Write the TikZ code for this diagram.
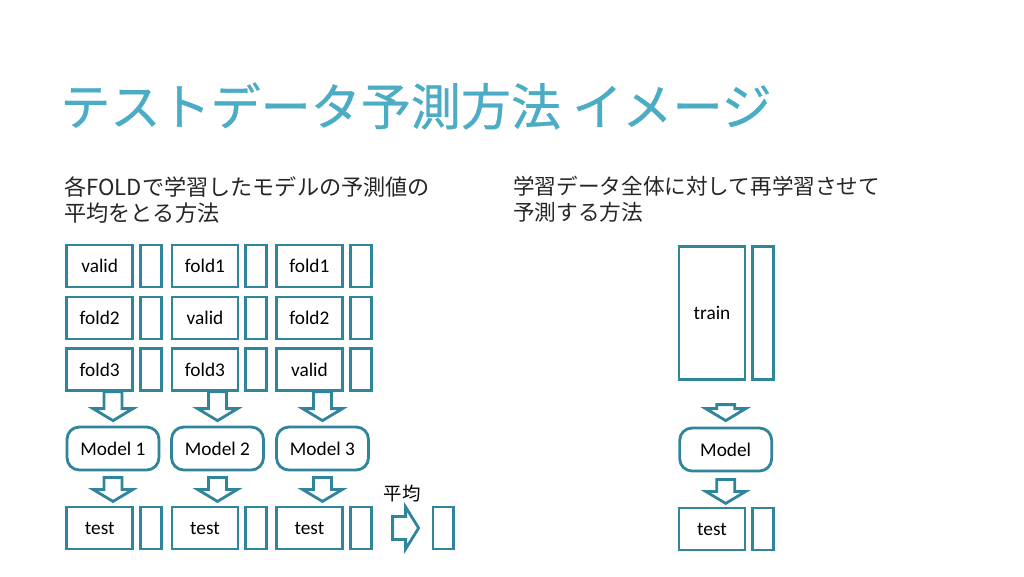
\documentclass[tikz,border=0pt]{standalone}
\usepackage{fontspec}
\setmainfont{Carlito}
\newfontfamily\jpfont{Noto Sans CJK JP}
\newfontfamily\jptitle[FakeBold=0.6]{Noto Sans CJK JP}
\usetikzlibrary{positioning,calc}
\definecolor{boxc}{RGB}{49,133,155}
\definecolor{titlec}{RGB}{75,172,198}
\tikzset{
  databox/.style={
    draw=boxc, line width=1.6pt,
    minimum width=1.32cm,
    minimum height=0.84cm,
    inner sep=0pt,
    font=\fontsize{11}{13}\selectfont},
  predbox/.style={
    draw=boxc, line width=1.6pt,
    minimum width=0.42cm,
    minimum height=0.84cm,
    inner sep=0pt},
  modelbox/.style={
    draw=boxc, line width=1.6pt,
    rounded corners=7pt,
    minimum width=1.84cm,
    minimum height=0.86cm,
    inner sep=0pt,
    font=\fontsize{11}{13}\selectfont},
  pics/darrow/.style={code={
    \draw[boxc, line width=1.6pt, line join=miter]
      (-9,0) -- (9,0) -- (9,#1-12) -- (20,#1-12) -- (0,#1)
      -- (-20,#1-12) -- (-9,#1-12) -- cycle;}},
  pics/rarrow/.style={code={
    \draw[boxc, line width=1.6pt, line join=miter]
      (0,-11.5) -- (13,-11.5) -- (13,-21) -- (26,0) -- (13,21)
      -- (13,11.5) -- (0,11.5) -- cycle;}},
}

\begin{document}
\begin{tikzpicture}[
    x=0.02cm, y=-0.02cm,
    title/.style={anchor=west, inner sep=0pt, text=titlec,
      font=\jptitle\fontsize{28.5}{30}\selectfont},
    sub/.style={anchor=north west, inner sep=0pt, align=left,
      text=black!85, font=\jpfont\fontsize{12.6}{14.8}\selectfont},
    ]
    \useasboundingbox[fill=white] (0,0) rectangle (1024,576);

    % title
    \node[title] (ttl) at (60,106) {テストデータ予測方法 イメージ};
    \node[sub] (subl) at (64,176) {各FOLDで学習したモデルの予測値の\\平均をとる方法};
    \node[sub, font=\jpfont\fontsize{12.3}{14.8}\selectfont]
      (subr) at (513,176) {学習データ全体に対して再学習させて\\予測する方法};

    % folds
    \node[databox] (d11) at (99.7,266) {valid};
    \node[databox] (d12) at (99.7,318) {fold2};
    \node[databox] (d13) at (99.7,369.5) {fold3};
    \node[databox] (d21) at (205,266) {fold1};
    \node[databox] (d22) at (205,318) {valid};
    \node[databox] (d23) at (205,369.5) {fold3};
    \node[databox] (d31) at (309.4,266) {fold1};
    \node[databox] (d32) at (309.4,318) {fold2};
    \node[databox] (d33) at (309.4,369.5) {valid};
    \foreach \c in {1,2,3}{
      \foreach \r in {1,2,3}{
        \node[predbox, right=0.1cm of d\c\r] (p\c\r) {};
      }
    }

    % models
    \node[modelbox] (m1) at (113,448.5) {Model 1};
    \node[modelbox] (m2) at (217.5,448.5) {Model 2};
    \node[modelbox] (m3) at (322.5,448.5) {Model 3};
    \pic at ($(m1.north)+(0,-34)$) {darrow=29};
    \pic at ($(m2.north)+(0,-34)$) {darrow=29};
    \pic at ($(m3.north)+(0,-34)$) {darrow=29};

    % test
    \node[databox] (t1) at (99.7,528) {test};
    \node[databox] (t2) at (205,528) {test};
    \node[databox] (t3) at (309.4,528) {test};
    \node[predbox, right=0.1cm of t1] (q1) {};
    \node[predbox, right=0.1cm of t2] (q2) {};
    \node[predbox, right=0.1cm of t3] (q3) {};
    \pic at ($(m1.south)+(0,6)$) {darrow=24};
    \pic at ($(m2.south)+(0,6)$) {darrow=24};
    \pic at ($(m3.south)+(0,6)$) {darrow=24};

    % average
    \node[predbox] (avg) at (443.4,528) {};
    \node[inner sep=0pt, font=\jpfont\fontsize{10.5}{12}\selectfont]
      (avgl) at (402,494) {平均};
    \pic at ($(q3.east)+(20,0)$) {rarrow};

    % full train
    \node[databox, minimum height=2.66cm] (tr) at (712,313) {train};
    \node[predbox, minimum height=2.66cm, right=0.1cm of tr] (ptr) {};
    \node[modelbox] (m0) at (725.7,449.5) {Model};
    \pic at ($(m0.north)+(0,-22)$) {darrow=16};
    \node[databox] (t0) at (712,529) {test};
    \node[predbox, right=0.1cm of t0] (q0) {};
    \pic at ($(m0.south)+(0,7)$) {darrow=24};
\end{tikzpicture}
\end{document}
